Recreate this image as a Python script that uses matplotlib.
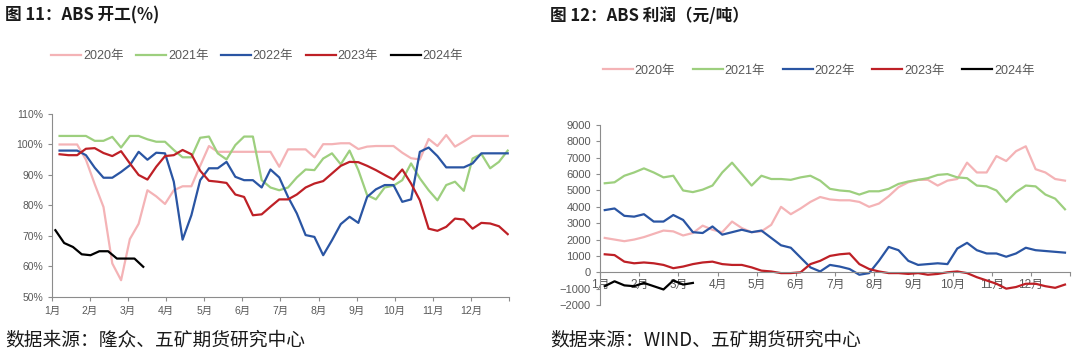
import numpy as np
import matplotlib
matplotlib.use('Agg')
import matplotlib.pyplot as plt

plt.rcParams['font.family'] = ['Liberation Sans', 'Noto Sans CJK SC', 'DejaVu Sans']

months = [f'{i}月' for i in range(1, 13)]
years = ['2020年', '2021年', '2022年', '2023年', '2024年']
colors = ['#F4B3B6', '#9DCF7E', '#2A55A3', '#BE2026', '#000000']

# ---- left chart: ABS operating rate (%), weekly ----
op_2020 = [100, 100, 100, 95, 87, 79.5, 61, 55.5, 69, 74, 85, 83, 80.5, 85, 86.3, 86.3,
           93, 99.5, 97.6, 97.6, 97.6, 97.6, 97.6, 97.6, 97.6, 92.7, 98.4, 98.4, 98.4, 95.8,
           100.1, 100.1, 100.4, 100.4, 98.5, 99.3, 99.5, 99.5, 99.5, 97.3, 95.5, 95.1, 101.8,
           99.5, 103.1, 99.3, 101, 102.8, 102.8, 102.8, 102.8, 102.8]
op_2021 = [102.8, 102.8, 102.8, 102.8, 101.2, 101.2, 102.5, 99, 102.8, 102.8, 101.7, 100.9,
           100.9, 98.2, 95.8, 95.8, 102.2, 102.6, 97.1, 95.1, 99.8, 102.6, 102.6, 88.3, 85.9,
           85, 85.9, 89.2, 91.8, 91.6, 95.4, 97.1, 93.5, 98, 91.6, 83.4, 82, 85.9, 86.5, 88.3,
           93.8, 88.9, 85, 81.7, 86.7, 87.8, 84.8, 95.4, 96.9, 92.2, 94.3, 98]
op_2022 = [98, 98, 98, 96.5, 92.4, 89.1, 89.1, 91, 93.2, 97.6, 95, 97.3, 97.1, 87.8, 68.8,
           76.8, 88.3, 92.2, 92.2, 94.3, 89.4, 88.3, 88.3, 85.9, 91.8, 89.2, 82.8, 77.4, 70.3,
           69.7, 63.7, 68.6, 73.9, 76.3, 74.3, 82.8, 85.3, 86.7, 86.7, 81.2, 82, 97.6, 99,
           96.2, 92.5, 92.5, 92.5, 93.8, 97.1, 97.1, 97.1, 97.1]
op_2023 = [96.8, 96.5, 96.5, 98.6, 98.8, 97.2, 96.2, 97.8, 93.8, 90, 88.5, 92.7, 96.2, 96.5,
           98.2, 96.8, 91.4, 88.1, 87.8, 87.4, 83.6, 82.8, 76.8, 77.1, 79.6, 82, 82, 83.6, 85.9,
           87.2, 88, 90.5, 93, 94.3, 94.2, 93, 91.6, 90, 88.5, 91.8, 87.2, 81.7, 72.4, 71.7,
           73, 75.7, 75.4, 72.4, 74.3, 74.1, 73.2, 70.6]
op_2024 = [71.9, 67.7, 66.4, 64, 63.7, 65, 65, 62.6, 62.6, 62.6, 59.9]
op_series = [op_2020, op_2021, op_2022, op_2023, op_2024]
op_start = [0.2, 0.2, 0.2, 0.2, 0.09]   # first week position (month units)

# ---- right chart: ABS profit (yuan/ton) ----
pf_2020 = [2100, 2000, 1900, 2000, 2150, 2350, 2550, 2500, 2250, 2400, 2850, 2600, 2450,
           3100, 2700, 2450, 2500, 2900, 4000, 3550, 3900, 4300, 4600, 4450, 4400, 4400,
           4300, 4000, 4200, 4650, 5200, 5500, 5650, 5650, 5300, 5600, 5700, 6700, 6100,
           6100, 7100, 6800, 7400, 7700, 6300, 6100, 5700, 5600]
pf_2021 = [5440, 5500, 5900, 6100, 6350, 6100, 5800, 5900, 5000, 4900, 5050, 5300, 6100,
           6700, 6000, 5300, 5900, 5700, 5700, 5650, 5800, 5900, 5600, 5100, 5000, 4950,
           4750, 4950, 4950, 5100, 5400, 5550, 5650, 5750, 5950, 6000, 5800, 5750, 5300,
           5250, 5000, 4300, 4900, 5300, 5250, 4750, 4500, 3850]
pf_2022 = [3800, 3900, 3450, 3400, 3550, 3100, 3100, 3500, 3200, 2450, 2400, 2800, 2300,
           2450, 2600, 2450, 2550, 2100, 1650, 1500, 900, 300, 50, 450, 350, 200, -150, -50,
           700, 1550, 1350, 700, 450, 500, 550, 500, 1450, 1800, 1350, 1150, 1150, 950, 1150,
           1500, 1350, 1300, 1250, 1200]
pf_2023 = [1100, 1050, 650, 550, 600, 550, 450, 250, 350, 500, 600, 650, 500, 450, 450, 300,
           100, 50, -50, -50, 0, 500, 700, 1000, 1100, 1150, 500, 200, 50, -50, -50, -100,
           -50, -150, -100, 0, 50, -50, -300, -500, -700, -1000, -900, -700, -700, -850,
           -950, -750]
pf_2024 = [-850, -550, -800, -850, -650, -850, -1050, -500, -750, -650]
pf_series = [pf_2020, pf_2021, pf_2022, pf_2023, pf_2024]

WEEK = 12 / 52
STEP = 0.25

fig = plt.figure(figsize=(10.8, 3.58), dpi=100)
grey = '#595959'
spine_c = '#8C8C8C'

# Left axes
ax1 = fig.add_axes([0.0481, 0.1704, 0.4231, 0.5112])
for vals, st, c, lab in zip(op_series, op_start, colors, years):
    x = st + WEEK * np.arange(len(vals))
    ax1.plot(x, vals, color=c, lw=1.6, label=lab)
ax1.set_xlim(0, 12)
ax1.set_ylim(50, 110)
ax1.set_yticks(range(50, 111, 10))
ax1.set_yticklabels([f'{v}%' for v in range(50, 111, 10)])
ax1.set_xticks(range(13))
ax1.set_xticklabels(months + [''])
for s in ['top', 'right']:
    ax1.spines[s].set_visible(False)
for s in ['left', 'bottom']:
    ax1.spines[s].set_color(spine_c)
ax1.tick_params(axis='both', colors=spine_c, labelcolor=grey, labelsize=7.5, length=3, width=0.8)

# Right axes
ax2 = fig.add_axes([0.5556, 0.148, 0.4352, 0.5028])
for vals, c, lab in zip(pf_series, colors, years):
    x = 0.12 + STEP * np.arange(len(vals))
    ax2.plot(x, vals, color=c, lw=1.6, label=lab)
ax2.set_xlim(0, 12)
ax2.set_ylim(-2000, 9000)
ax2.set_yticks(range(-2000, 9001, 1000))
ax2.set_xticks(range(13))
ax2.set_xticklabels(months + [''])
ax2.spines['bottom'].set_position(('data', 0))
for s in ['top', 'right']:
    ax2.spines[s].set_visible(False)
for s in ['left', 'bottom']:
    ax2.spines[s].set_color(spine_c)
ax2.tick_params(axis='both', colors=spine_c, labelcolor=grey, labelsize=8, length=3, width=0.8)
ax2.tick_params(axis='x', pad=2, labelsize=8.5)

# Legends
h1, l1 = ax1.get_legend_handles_labels()
fig.legend(h1, l1, loc='center', bbox_to_anchor=(0.238, 0.843), ncol=5, frameon=False,
           fontsize=9, labelcolor=grey, handlelength=2.4, handletextpad=0.15, columnspacing=1.0)
h2, l2 = ax2.get_legend_handles_labels()
fig.legend(h2, l2, loc='center', bbox_to_anchor=(0.758, 0.803), ncol=5, frameon=False,
           fontsize=9, labelcolor=grey, handlelength=2.4, handletextpad=0.15, columnspacing=1.4)

# Titles
fig.text(0.005, 0.956, '图 11：ABS 开工(%)', fontsize=12, fontweight='bold',
         family=['Noto Sans CJK SC'], va='center', ha='left', color='#1a1a1a')
fig.text(0.509, 0.956, '图 12：ABS 利润（元/吨）', fontsize=12, fontweight='bold',
         family=['Noto Sans CJK SC'], va='center', ha='left', color='#1a1a1a')
# Sources
fig.text(0.005, 0.05, '数据来源：隆众、五矿期货研究中心', fontsize=13.5,
         family=['Noto Sans CJK SC'], va='center', ha='left', color='#1a1a1a')
fig.text(0.509, 0.05, '数据来源：WIND、五矿期货研究中心', fontsize=13.5,
         family=['Noto Sans CJK SC'], va='center', ha='left', color='#1a1a1a')

fig.savefig('out.png', dpi=100)
